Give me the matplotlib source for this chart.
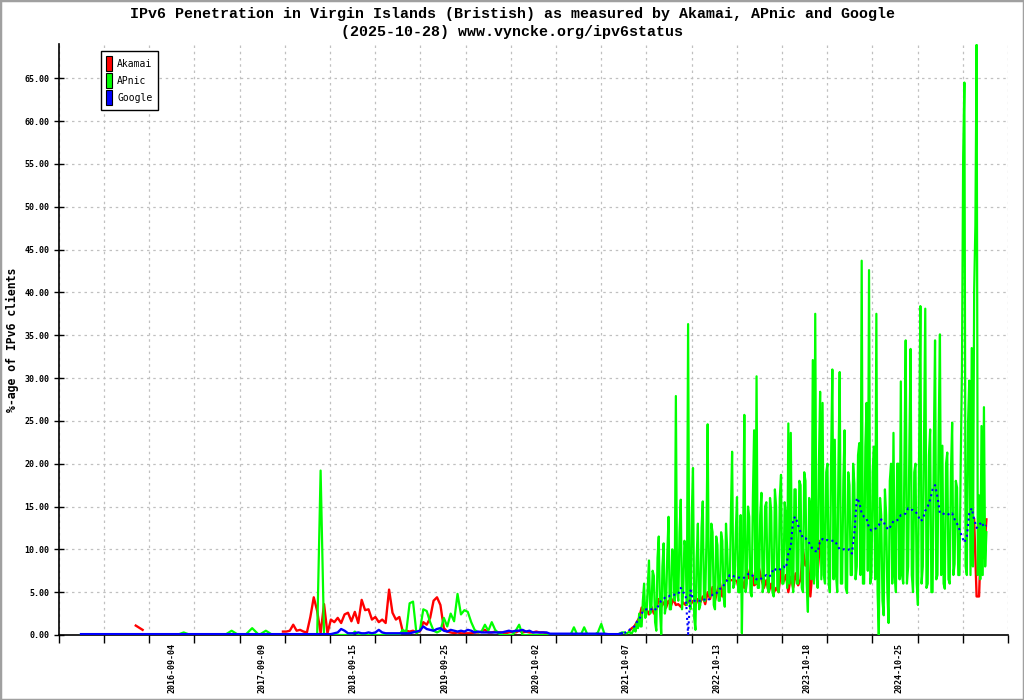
import numpy as np
import pandas as pd
import matplotlib
matplotlib.use('Agg')
import matplotlib.pyplot as plt
import matplotlib.dates as mdates
from matplotlib.patches import Patch, Rectangle

nan = np.nan

## Sampling grids (three periods, APnic is denser in the last one)
dates_a = pd.date_range('2015-08-30', periods=29, freq='28D')
dates_b = pd.date_range('2017-11-19', periods=101, freq='14D')
dates_c = pd.date_range('2021-09-30', periods=149, freq='10D')
dates_g = pd.date_range('2021-09-30', periods=297, freq='5D')

## Akamai
akamai_a = [nan, nan, nan, nan, nan, nan, nan, nan, 1.1, 0.6,
            nan, nan, nan, nan, nan, nan, nan, nan, nan, nan,
            nan, nan, nan, nan, nan, nan, nan, nan, nan]
akamai_b = [nan, 0.4, 0.4, 0.5, 1.2, 0.5, 0.6, 0.4, 0.3, 2.1,
            4.4, 2.8, 0.2, 3.6, 0.2, 1.8, 1.5, 2.0, 1.4, 2.4,
            2.6, 1.6, 2.7, 1.4, 4.1, 2.9, 3.0, 1.8, 2.1, 1.5,
            1.8, 1.4, 5.3, 2.6, 1.8, 2.1, 0.4, 0.5, 0.4, 0.5,
            0.3, 0.4, 1.5, 1.2, 2.0, 4.0, 4.4, 3.5, 0.8, 0.4,
            0.3, 0.2, 0.3, 0.2, 0.2, 0.2, 0.2, 0.3, 0.3, 0.4,
            0.6, 0.3, 0.3, 0.4, 0.3, 0.3, 0.2, 0.3, 0.4, 0.3,
            0.5, 0.3, 0.4, 0.3, 0.3, 0.4, 0.3, 0.3, 0.2, nan,
            nan, nan, nan, nan, nan, nan, nan, nan, nan, nan,
            nan, nan, nan, nan, nan, nan, nan, nan, nan, nan,
            nan]
akamai_c = [nan, nan, 0.5, 0.8, 1.0, 1.5, 2.0, 3.2, 2.8, 3.0,
            2.4, 3.3, 2.5, 3.0, 4.2, 3.3, 3.8, 3.2, 4.0, 3.4,
            4.2, 3.5, 3.6, 3.3, 3.8, 3.5, 4.0, 3.6, 4.0, 3.5,
            4.2, 3.8, 4.5, 3.6, 5.0, 4.2, 5.6, 4.0, 5.2, 6.1,
            4.5, 6.4, 6.4, 6.4, 6.4, 6.4, 6.3, 5.0, 6.5, 5.5,
            7.8, 6.6, 7.5, 5.8, 6.0, 7.8, 6.5, 5.5, 6.4, 5.0,
            6.0, 4.9, 5.5, 5.0, 7.5, 6.2, 7.0, 5.0, 6.8, 5.5,
            7.2, 5.8, 6.5, 9.9, 8.1, 8.8, 4.5, 8.0, 12.0, 7.4,
            11.0, 8.5, nan, nan, nan, nan, nan, nan, nan, nan,
            nan, nan, nan, nan, nan, nan, nan, nan, nan, nan,
            nan, nan, nan, nan, nan, nan, nan, nan, nan, nan,
            nan, nan, nan, nan, nan, nan, nan, nan, nan, nan,
            nan, nan, nan, nan, nan, nan, nan, nan, nan, nan,
            nan, nan, nan, nan, nan, nan, nan, nan, nan, nan,
            nan, nan, nan, 13.5, 4.5, 4.5, 13.0, 9.0, 13.5]

## APnic
apnic_a = [0, 0, 0, 0, 0, 0, 0, 0, 0, 0,
           0, 0, 0, 0, 0, 0.3, 0, 0, 0, 0,
           0, 0, 0.5, 0, 0, 0.8, 0, 0.5, 0]
apnic_b = [0, 0, 0, 0, 0, 0, 0, 0, 0, 0,
           0, 0, 19.2, 0, 0, 0, 0, 0, 0, 0,
           0, 0, 0.4, 0, 0, 0, 0, 0, 0, 0,
           0, 0, 0, 0, 0, 0, 0.6, 0.3, 3.7, 3.9,
           0.2, 0.5, 3.0, 2.8, 1.5, 0.5, 0.3, 0.5, 2.0, 1.0,
           2.5, 1.6, 4.8, 2.4, 2.9, 2.7, 1.5, 0.6, 0.3, 0.4,
           1.2, 0.5, 1.5, 0.6, 0.2, 0, 0, 0, 0, 0.5,
           1.2, 0, 0, 0, 0, 0, 0, 0, 0, 0,
           0, 0, 0, 0, 0, 0, 0.9, 0, 0, 0.9,
           0, 0, 0, 0.3, 1.3, 0, 0, 0, 0, 0.1,
           0.3]
apnic_g = [0.3, 0.2, 0.2, 0.3, 0.4, 0.2, 0.2, 0.5, 0.8, 0.4, 1.5, 0.8, 2.5, 1.0, 1.0, 4.0, 6.0, 2.0, 2.5, 5.5,
           8.7, 2.5, 3.0, 7.5, 6.9, 1.5, 0.5, 9.0, 11.5, 3.0, 0.1, 8.0, 10.7, 2.5, 3.5, 9.5, 13.8, 3.0, 3.0, 10.0,
           9.0, 4.0, 27.9, 5.0, 4.0, 12.0, 15.8, 3.0, 5.0, 11.0, 10.0, 3.5, 36.3, 4.0, 3.0, 14.0, 19.5, 2.0, 0.6, 9.0,
           13.0, 3.0, 3.5, 12.5, 15.6, 4.0, 4.0, 11.0, 24.6, 5.0, 4.5, 13.0, 12.0, 3.5, 3.0, 11.5, 10.5, 4.0, 4.0, 12.0,
           11.0, 4.5, 3.3, 13.0, 10.0, 5.0, 5.0, 14.0, 21.4, 5.5, 6.0, 12.0, 16.1, 5.0, 5.0, 14.0, 0.2, 11.0, 25.7, 5.0,
           6.0, 15.0, 13.8, 5.0, 4.5, 16.0, 23.9, 6.0, 30.2, 5.5, 5.5, 14.0, 16.6, 5.0, 6.0, 15.0, 15.5, 5.5, 5.0, 16.0,
           14.5, 5.0, 4.5, 17.0, 15.0, 5.5, 5.0, 16.0, 18.7, 6.0, 6.0, 15.5, 14.0, 5.5, 24.7, 6.0, 23.6, 6.5, 5.0, 17.0,
           17.0, 6.0, 6.0, 18.0, 17.5, 5.5, 5.0, 19.0, 18.0, 6.0, 2.7, 16.0, 15.0, 6.5, 32.1, 6.0, 37.5, 7.0, 5.5, 20.0,
           28.4, 6.5, 27.1, 7.0, 6.0, 19.0, 20.0, 6.0, 5.0, 21.0, 31.0, 6.5, 22.8, 7.0, 5.0, 20.0, 30.7, 6.0, 6.0, 18.0,
           23.9, 5.5, 4.9, 19.0, 17.5, 7.0, 7.0, 20.0, 17.7, 6.5, 8.0, 21.0, 22.4, 7.0, 43.7, 6.0, 6.0, 22.0, 27.1, 7.5,
           42.6, 6.0, 7.0, 19.0, 22.0, 6.5, 37.5, 5.0, 0.0, 16.0, 14.0, 4.0, 2.3, 17.0, 14.0, 5.0, 1.4, 18.0, 20.0, 6.0,
           23.6, 7.0, 5.0, 20.0, 20.0, 6.5, 29.6, 7.0, 6.0, 21.0, 34.4, 6.0, 8.0, 22.0, 33.4, 7.0, 5.0, 19.0, 20.0, 6.0,
           3.5, 22.0, 38.4, 6.0, 8.0, 23.0, 38.1, 5.5, 6.0, 21.0, 24.0, 5.0, 5.0, 22.0, 34.4, 6.5, 7.0, 24.0, 35.1, 7.0,
           22.1, 6.0, 5.4, 20.0, 21.3, 6.5, 6.0, 19.0, 24.8, 7.0, 8.3, 18.0, 17.2, 7.0, 7.0, 20.0, 30.8, 55.8, 64.5, 8.0,
           7.0, 24.8, 29.7, 7.0, 33.5, 8.0, 40.2, 47.8, 68.9, 7.0, 16.3, 6.5, 24.4, 7.0, 26.6, 8.0, 12.0]

## Google
google_a = [0.1, 0.1, 0.1, 0.1, 0.1, 0.1, 0.1, 0.1, 0.1, 0.1,
            0.1, 0.1, 0.1, 0.1, 0.1, 0.1, 0.1, 0.1, 0.1, 0.1,
            0.1, 0.1, 0.1, 0.1, 0.1, 0.1, 0.1, 0.1, 0.1]
google_b = [0.1, 0.1, 0.1, 0.1, 0.1, 0.1, 0.1, 0.1, 0.1, 0.1,
            0.1, 0.1, 0.1, 0.1, 0.1, 0.1, 0.2, 0.3, 0.7, 0.5,
            0.2, 0.2, 0.2, 0.3, 0.2, 0.2, 0.3, 0.2, 0.3, 0.6,
            0.3, 0.2, 0.2, 0.2, 0.2, 0.2, 0.2, 0.2, 0.2, 0.3,
            0.4, 0.5, 1.0, 0.7, 0.6, 0.5, 0.7, 0.8, 0.5, 0.4,
            0.6, 0.5, 0.4, 0.5, 0.4, 0.6, 0.5, 0.3, 0.4, 0.3,
            0.3, 0.3, 0.3, 0.3, 0.3, 0.3, 0.4, 0.5, 0.4, 0.5,
            0.5, 0.6, 0.4, 0.5, 0.3, 0.3, 0.3, 0.3, 0.3, 0.15,
            0.15, 0.15, 0.15, 0.15, 0.15, 0.15, 0.15, 0.15, 0.15, 0.15,
            0.15, 0.15, 0.15, 0.15, 0.15, 0.15, 0.1, 0.1, 0.1, 0.1,
            0.2]
google_c = [0.2, 0.5, 0.6, 0.8, 1.0, 1.5, 1.8, 2.5, 2.9, 3.0,
            2.9, 3.0, 3.2, 2.9, 3.5, 4.0, 4.2, 4.5, 4.5, 4.7,
            4.7, 4.7, 4.8, 5.5, 5.0, 4.7, 0.1, 5.2, 4.2, 3.9,
            4.0, 4.0, 4.2, 4.1, 4.0, 4.3, 4.7, 4.7, 5.0, 5.4,
            5.5, 6.0, 6.4, 7.0, 7.0, 6.8, 6.7, 6.7, 6.6, 6.7,
            7.0, 7.2, 7.0, 6.8, 6.5, 6.4, 6.6, 6.8, 7.0, 6.8,
            7.0, 7.8, 7.6, 7.5, 7.8, 8.0, 7.8, 9.5, 10.3, 13.6,
            13.8, 12.8, 12.0, 11.3, 11.3, 11.0, 10.5, 10.0, 9.8, 9.7,
            11.0, 11.2, 11.0, 11.1, 11.0, 11.0, 11.0, 10.5, 10.0, 10.0,
            10.0, 9.9, 10.0, 9.5, 11.9, 16.0, 15.5, 14.2, 13.8, 13.6,
            12.5, 12.2, 12.3, 12.5, 12.8, 13.5, 13.2, 12.6, 12.3, 12.8,
            13.3, 13.3, 13.5, 14.0, 14.0, 14.2, 14.8, 14.6, 14.6, 14.4,
            14.0, 13.3, 13.5, 14.5, 15.0, 15.8, 17.0, 17.5, 16.1, 14.2,
            14.2, 14.1, 14.2, 14.0, 14.2, 13.5, 13.0, 12.3, 11.5, 10.8,
            11.5, 14.2, 14.8, 13.5, 12.5, 12.8, 13.2, 12.6, 12.8]

## Axis labels
label_dates = ['2016-09-04', '2017-09-09', '2018-09-15', '2019-09-25', '2020-10-02',
               '2021-10-07', '2022-10-13', '2023-10-18', '2024-10-25']
title1 = 'IPv6 Penetration in Virgin Islands (Bristish) as measured by Akamai, APnic and Google'
title2 = '(2025-10-28) www.vyncke.org/ipv6status'

mono = 'DejaVu Sans Mono'

fig = plt.figure(figsize=(10.24, 7.0), dpi=100)
ax = fig.add_axes([58.7/1024, 65/700, (1008-58.7)/1024, (635-44)/700])

dates_ab = dates_a.append(dates_b)
ax.plot(dates_ab, akamai_a + akamai_b, color='#ff0000', lw=1.7, zorder=2)
ax.plot(dates_c, akamai_c, color='#ff0000', lw=1.7, zorder=2)
ax.plot(dates_ab.append(dates_g), apnic_a + apnic_b + apnic_g, color='#00ff00', lw=1.6, zorder=3)
ax.plot(dates_ab, google_a + google_b, color='#0000ff', lw=1.7, zorder=4)
ax.plot(dates_c, google_c, color='#0000ff', lw=1.5, ls=(0, (1, 1.6)), zorder=4)

## x axis scale
ref = mdates.date2num(pd.Timestamp('2016-09-04'))
xmin = ref - 462.2
xmax = ref + 3420.4
ax.set_xlim(xmin, xmax)
ax.set_xticks(np.linspace(xmin, xmax, 22))
ax.set_xticklabels([])
ax.set_xticks(mdates.date2num(pd.to_datetime(label_dates)), minor=True)
ax.set_xticklabels(label_dates, minor=True, rotation=90, fontsize=6,
                   family=mono, fontweight='bold', va='top')
ax.tick_params(axis='x', which='major', direction='out', length=6, width=1)
ax.tick_params(axis='x', which='minor', length=0, pad=6)

ax.set_ylim(0, 69)
yt = np.arange(0, 70, 5)
ax.set_yticks(yt)
ax.set_yticklabels(['%.2f' % v for v in yt], fontsize=6, family=mono, fontweight='bold')
ax.tick_params(axis='y', direction='inout', length=7, width=1, pad=3)

ax.grid(True, which='major', color='#c0c0c0', lw=0.9, ls=(0, (2, 3)))
ax.spines['top'].set_visible(False)
ax.spines['right'].set_visible(False)
for s in ('left', 'bottom'):
    ax.spines[s].set_linewidth(1.2)

## Titles
fig.text(0.5, 1 - 14/700, title1, ha='center', va='center', fontsize=10.8,
         family='Liberation Mono', fontweight='bold')
fig.text(0.5, 1 - 32/700, title2, ha='center', va='center', fontsize=10.8,
         family='Liberation Mono', fontweight='bold')
fig.text(12/1024, 1 - 340/700, '%-age of IPv6 clients', rotation=90, ha='center',
         va='center', fontsize=8.3, family=mono, fontweight='bold')

## Legend
handles = [Patch(facecolor='#ff0000', edgecolor='black', lw=0.8, label='Akamai'),
           Patch(facecolor='#00ff00', edgecolor='black', lw=0.8, label='APnic'),
           Patch(facecolor='#0000ff', edgecolor='black', lw=0.8, label='Google')]
leg = ax.legend(handles=handles, loc='upper left', bbox_to_anchor=(100.7/1024, 1 - 50.7/700),
                bbox_transform=fig.transFigure, borderaxespad=0, fancybox=False,
                prop={'family': mono, 'size': 7}, handlelength=0.65, handleheight=2.0,
                handletextpad=0.5, labelspacing=0.2, borderpad=0.55, framealpha=1)
leg.get_frame().set_edgecolor('black')
leg.get_frame().set_linewidth(1.0)

fig.patches.append(Rectangle((0, 0), 1, 1, transform=fig.transFigure, fill=False,
                             edgecolor='#a0a0a0', lw=2.5))

fig.savefig('out.png', dpi=100)
